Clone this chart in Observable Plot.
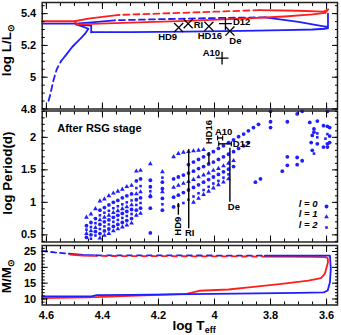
<!DOCTYPE html>
<html><head><meta charset="utf-8">
<script src="https://cdn.jsdelivr.net/npm/d3@7"></script>
<script src="https://cdn.jsdelivr.net/npm/@observablehq/plot@0.6"></script>
<style>
body{margin:0;background:#fff;}
#wrap{position:relative;width:341px;height:335px;font-family:"Liberation Sans",Arial,sans-serif;font-weight:bold;color:#000;}
#wrap svg{position:absolute;left:0;overflow:visible;}
.yt{position:absolute;white-space:nowrap;transform:translate(-50%,-50%) rotate(-90deg);font-size:13.5px;line-height:1;}
.xt{position:absolute;white-space:nowrap;transform:translate(-50%,-50%);font-size:13.5px;line-height:1;}
sub{font-size:9px;vertical-align:-3px;}
</style></head><body><div id="wrap"></div>
<script>
// ---------- top panel: HR tracks (log Teff, log L) ----------
const blueMsDashT = [4.592, 4.585, 4.575, 4.563, 4.548];
const blueMsDashL = [4.852, 4.900, 4.980, 5.050, 5.100];
const blueMsT = [4.548, 4.527, 4.508, 4.490, 4.474, 4.462, 4.450, 4.472, 4.495, 4.440, 4.440];
const blueMsL = [5.100, 5.147, 5.190, 5.222, 5.250, 5.274, 5.305, 5.320, 5.333, 5.324, 5.283];
const blueLowT = [4.440, 4.300, 4.100, 3.900, 3.750, 3.650, 3.605, 3.595, 3.595, 3.595, 3.605];
const blueLowL = [5.283, 5.284, 5.287, 5.291, 5.296, 5.300, 5.305, 5.308, 5.400, 5.318, 5.318];
const blueUpSolidT = [3.605, 3.700, 3.820];
const blueUpSolidL = [5.318, 5.348, 5.377];
const blueUpDashT = [3.820, 4.000, 4.200, 4.356];
const blueUpDashL = [5.377, 5.372, 5.365, 5.358];
const blueUpEndT = [4.356, 4.440, 4.495, 4.615];
const blueUpEndL = [5.358, 5.345, 5.337, 5.337];
const redLowT = [4.615, 4.500, 4.490, 4.300, 4.100, 3.900, 3.750, 3.650, 3.605];
const redLowL = [5.352, 5.352, 5.333, 5.343, 5.355, 5.368, 5.382, 5.395, 5.405];
const redHookT = [3.605, 3.594, 3.612];
const redHookL = [5.405, 5.427, 5.412];
const redUpSolidT = [3.612, 3.700, 3.840];
const redUpSolidL = [5.412, 5.418, 5.422];
const redUpDashT = [3.840, 4.000, 4.200, 4.340];
const redUpDashL = [5.422, 5.412, 5.400, 5.392];
const redUpEndT = [4.340, 4.400, 4.450, 4.500];
const redUpEndL = [5.392, 5.380, 5.368, 5.352];

const starName = ["HD9", "RI", "HD16", "D12", "De", "A10"];
const starT = [4.128, 4.094, 4.020, 3.961, 3.945, 3.973];
const starL = [5.312, 5.337, 5.320, 5.337, 5.290, 5.120];
const starSymbol = ["times", "times", "times", "plus", "times", "plus"];

// ---------- middle panel: periods (log Teff, log P) ----------
const leftT = [4.457, 4.441, 4.425, 4.409, 4.393, 4.377, 4.361, 4.345, 4.329, 4.313, 4.296, 4.279, 4.264];
const leftL1a = [0.77, 0.82, 0.90, 1.02, 1.05, 1.10, 1.14, 1.17, 1.20, 1.24, 1.26, 1.48, 1.49];
const leftL1b = [0.52, 0.56, 0.61, 0.73, 0.77, 0.80, 0.84, 0.87, 0.90, 0.93, 0.96, 1.13, 1.16];
const leftL1c = [null, null, null, 0.45, 0.49, 0.52, 0.56, 0.59, 0.62, 0.65, 0.68, 0.80, 0.83];
const leftL0a = [0.64, 0.69, 0.75, 0.88, 0.92, 0.96, 1.00, 1.03, 1.07, 1.10, 1.13, 1.33, 1.36];
const leftL0b = [0.46, 0.50, 0.55, 0.66, 0.70, 0.73, 0.77, 0.80, 0.83, 0.86, 0.89, 1.04, 1.07];
const leftL0c = [null, null, null, 0.52, 0.56, 0.59, 0.63, 0.66, 0.69, 0.72, 0.75, 0.88, 0.91];
const leftL2a = [0.58, 0.62, 0.68, 0.80, 0.84, 0.87, 0.91, 0.94, 0.97, 1.00, 1.03, 1.22, 1.25];
const leftL2b = [null, 0.44, 0.49, 0.59, 0.63, 0.66, 0.70, 0.73, 0.76, 0.79, 0.82, 0.96, 0.99];

const midT = [4.146, 4.129, 4.111, 4.093, 4.075, 4.057, 4.039, 4.021, 4.004, 3.986, 3.968, 3.950, 3.932, 3.914, 3.896, 3.879, 3.861, 3.843];
const midL1a = [1.70, 1.75, 1.77, 1.78, 1.79, 1.80, 1.81, null, null, null, null, null, null, null, null, null, null, null];
const midL0a = [null, null, null, 1.58, 1.62, 1.66, 1.70, 1.74, 1.78, 1.83, 1.87, 1.92, 1.96, 2.01, 2.05, 2.10, 2.15, 2.20];
const midL0b = [1.36, 1.39, 1.42, 1.45, 1.48, 1.52, 1.55, 1.59, 1.62, 1.66, 1.70, 1.74, 1.78, 1.83, 1.87, 1.92, null, null];
const midL1b = [1.23, 1.26, 1.29, 1.32, 1.35, 1.39, 1.42, 1.45, 1.49, 1.52, 1.56, 1.60, 1.64, null, null, null, null, null];
const midL0c = [1.08, 1.11, 1.15, 1.19, 1.23, 1.27, 1.31, 1.35, 1.39, 1.43, 1.47, 1.51, 1.55, null, null, null, null, null];
const midL2a = [null, 0.95, 0.99, 1.04, 1.09, 1.14, 1.19, 1.24, 1.29, 1.33, 1.38, 1.43, null, null, null, null, null, null];
const midL1c = [null, null, null, null, 1.00, 1.06, 1.12, 1.17, 1.22, 1.27, 1.31, 1.36, null, null, null, null, null, null];

const extraL0T = [4.229, 4.229, 4.229, 4.229, 4.229, 4.186, 4.186, 4.186, 4.186, 4.146, 3.854, 3.836, 3.758, 3.800, 3.800, 3.800,
  3.740, 3.705, 3.687, 3.597, 3.660, 3.633, 3.597, 3.589, 3.611, 3.645, 3.645, 3.651, 3.589, 3.655, 3.633, 3.597, 3.589, 3.651, 3.611, 3.597, 3.740, 3.740, 3.705, 3.705, 3.687];
const extraL0P = [1.34, 1.24, 1.09, 0.91, 0.53, 1.31, 1.21, 1.06, 0.88, 0.93, 1.31, 1.36, 1.48, 2.40, 2.24, 2.15,
  2.24, 2.36, 2.40, 2.40, 2.23, 2.25, 2.17, 2.15, 2.18, 2.13, 2.08, 2.03, 2.02, 1.92, 1.90, 1.90, 1.92, 1.80, 1.85, 1.85, 1.70, 1.57, 1.69, 1.58, 1.64];
const extraL1T = [4.229, 4.229, 4.186, 4.186];
const extraL1P = [1.59, 1.10, 1.47, 1.16];
const extraL2T = [4.229, 4.186, 4.186, 3.633, 3.604, 3.645, 3.633, 3.597];
const extraL2P = [1.17, 1.38, 0.97, 2.00, 1.98, 1.75, 2.06, 2.05];

const legendText = ["l = 0", "l = 1", "l = 2"];
const legendSymbol = ["circle", "triangle", "square"];

const obsName = ["HD9", "RI", "HD16", "A10", "D12", "De"];
const obsT1 = [4.129, 4.092, 4.020, 3.989, 3.985, 3.945];
const obsT2 = [4.129, 4.092, 4.020, 3.971, 3.940, 3.945];
const obsP1 = [0.81, 0.60, 1.595, 1.99, 1.90, 1.01];
const obsP2 = [0.99, 1.82, 1.77, 1.99, 1.90, 1.84];

// ---------- bottom panel: mass (log Teff, M) ----------
const bMassDashT = [4.615, 4.570, 4.520];
const bMassDashM = [25.2, 24.7, 24.3];
const bMassT1 = [4.520, 4.470, 4.420];
const bMassM1 = [24.3, 23.9, 23.8];
const bMassDash2T = [4.420, 4.100, 3.820];
const bMassDash2M = [23.8, 23.75, 23.7];
const bMassT2 = [3.820, 3.650, 3.588, 3.585, 3.588, 3.596, 3.610, 3.700, 4.000, 4.300, 4.420, 4.440, 4.615];
const bMassM2 = [23.7, 23.7, 23.7, 19.5, 15.3, 12.7, 12.1, 11.9, 11.6, 11.3, 11.2, 10.8, 10.8];
const rMassT1 = [4.515, 4.470, 4.420];
const rMassM1 = [24.0, 23.7, 23.6];
const rMassDashT = [4.420, 4.100, 3.820];
const rMassDashM = [23.6, 23.5, 23.4];
const rMassT2 = [3.820, 3.650, 3.605, 3.596, 3.595, 3.606, 3.620, 3.665, 3.760, 3.878, 3.950, 4.055, 4.100, 4.300, 4.450, 4.615];
const rMassM2 = [23.4, 23.3, 23.2, 22.9, 21.6, 18.0, 16.6, 15.8, 14.8, 13.7, 13.0, 12.6, 11.6, 11.0, 10.5, 10.3];

// ---------- helpers ----------
const BLUE = "#1e1eff", RED = "#ff1e1e";
const W = 341, ML = 41.7, MR = 4;
const xDomain = [4.615, 3.561];
const xMajor = [4.6, 4.4, 4.2, 4.0, 3.8, 3.6];
const xMinor = d3.range(4.6, 3.55, -0.05).map(v => +v.toFixed(2));
const pts = (T, V) => T.map((t, i) => ({t, v: V[i]})).filter(d => d.v != null);
const font = {fontSize: "11px", fontFamily: "'Liberation Sans', Arial, sans-serif", fontWeight: "bold", color: "#000", background: "transparent"};
const tf = () => "";
function frameMarks(yMajor, yMinor, showX) {
  return [
    Plot.frame({stroke: "#222", strokeWidth: 1.5}),
    Plot.axisX({anchor: "bottom", ticks: xMinor, tickSize: -3, tickFormat: tf, label: null}),
    Plot.axisX({anchor: "bottom", ticks: xMajor, tickSize: -6, tickFormat: tf, label: null}),
    Plot.axisX({anchor: "top", ticks: xMinor, tickSize: -3, tickFormat: tf, label: null}),
    Plot.axisX({anchor: "top", ticks: xMajor, tickSize: -6, tickFormat: tf, label: null}),
    showX ? Plot.axisX({anchor: "bottom", ticks: xMajor, tickSize: 0, tickPadding: 6, label: null, tickFormat: d => d3.format("")(d)}) : null,
    Plot.axisY({anchor: "left", ticks: yMinor, tickSize: -3, tickFormat: tf, label: null}),
    Plot.axisY({anchor: "left", ticks: yMajor, tickSize: -6, tickFormat: tf, label: null}),
    Plot.axisY({anchor: "right", ticks: yMinor, tickSize: -3, tickFormat: tf, label: null}),
    Plot.axisY({anchor: "right", ticks: yMajor, tickSize: -6, tickFormat: tf, label: null}),
    Plot.axisY({anchor: "left", ticks: yMajor, tickSize: 0, tickPadding: 6, label: null, tickFormat: d => d3.format("")(d)})
  ];
}
const wrap = document.getElementById("wrap");
function place(svg, top) { svg.style.top = top + "px"; wrap.appendChild(svg); }
function title(html, cls, x, y) { const d = document.createElement("div"); d.className = cls; d.style.left = x + "px"; d.style.top = y + "px"; d.innerHTML = html; wrap.appendChild(d); }
const lineOpt = (c, dash, off) => ({x: "t", y: "v", stroke: c, strokeWidth: 1.8, strokeDasharray: dash, strokeDashoffset: off});

// ---------- panel 1 ----------
const labelOff = {HD9: [-11, 9.5, "middle"], RI: [5.5, 1.5, "start"], HD16: [1, 9.5, "middle"], D12: [7.5, -1.5, "start"], De: [5.5, 10, "middle"], A10: [-2, -5, "end"]};
const stars = starName.map((n, i) => ({n, t: starT[i], v: starL[i], s: starSymbol[i]}));
const p1 = Plot.plot({
  width: W, height: 110, marginLeft: ML, marginRight: MR, marginTop: 2, marginBottom: 1.5,
  style: font,
  x: {domain: xDomain, axis: null},
  y: {domain: [4.8, 5.47], axis: null},
  symbol: {type: "identity"},
  marks: [
    Plot.line(pts(blueMsDashT, blueMsDashL), lineOpt(BLUE, "6,4")),
    Plot.line(pts(blueMsT, blueMsL), lineOpt(BLUE)),
    Plot.line(pts(blueLowT, blueLowL), lineOpt(BLUE)),
    Plot.line(pts(blueUpSolidT, blueUpSolidL), lineOpt(BLUE)),
    Plot.line(pts(blueUpDashT, blueUpDashL), lineOpt(BLUE, "6,4")),
    Plot.line(pts(blueUpEndT, blueUpEndL), lineOpt(BLUE)),
    Plot.line(pts(redLowT, redLowL), lineOpt(RED)),
    Plot.line(pts(redHookT, redHookL), lineOpt(RED)),
    Plot.line(pts(redUpSolidT, redUpSolidL), lineOpt(RED)),
    Plot.line(pts(redUpDashT, redUpDashL), lineOpt(RED, "6,4")),
    Plot.line(pts(redUpEndT, redUpEndL), lineOpt(RED)),
    Plot.dot(stars, {x: "t", y: "v", symbol: "s", r: 4.2, stroke: "#000", strokeWidth: 1.3}),
    ...stars.map(d => Plot.text([d], {x: "t", y: "v", text: "n", textAnchor: labelOff[d.n][2], dx: labelOff[d.n][0], dy: labelOff[d.n][1], fontSize: 9.5, fontWeight: "bold", fill: "#000"})),
    ...frameMarks([4.8, 5, 5.2, 5.4], d3.range(4.8, 5.47, 0.05).map(v => +v.toFixed(2)), false)
  ]
});
place(p1, 0);

// ---------- panel 2 ----------
const dotsL0 = [...pts(leftT, leftL0a), ...pts(leftT, leftL0b), ...pts(leftT, leftL0c), ...pts(midT, midL0a), ...pts(midT, midL0b), ...pts(midT, midL0c), ...pts(extraL0T, extraL0P)];
const dotsL1 = [...pts(leftT, leftL1a), ...pts(leftT, leftL1b), ...pts(leftT, leftL1c), ...pts(midT, midL1a), ...pts(midT, midL1b), ...pts(midT, midL1c), ...pts(extraL1T, extraL1P)];
const dotsL2 = [...pts(leftT, leftL2a), ...pts(leftT, leftL2b), ...pts(midT, midL2a), ...pts(extraL2T, extraL2P)];
const obs = obsName.map((n, i) => ({n, t1: obsT1[i], t2: obsT2[i], p1: obsP1[i], p2: obsP2[i], tm: (obsT1[i] + obsT2[i]) / 2}));
const capSym = {draw(ctx, size) { const h = Math.sqrt(size / Math.PI); ctx.moveTo(0, -h); ctx.lineTo(0, h); }};
const obsLab = {
  HD9: {x: "t1", y: "p1", rotate: -90, textAnchor: "end", dy: 2},
  RI: {x: "t1", y: "p1", textAnchor: "middle", dx: 1, dy: 5},
  HD16: {x: "t1", y: "p2", rotate: -90, textAnchor: "start", dy: -8},
  A10: {x: "tm", y: "p1", textAnchor: "middle", dx: 3.5, dy: -6.5},
  D12: {x: "t2", y: "p1", textAnchor: "start", dx: 1.5, dy: 0},
  De: {x: "t1", y: "p1", textAnchor: "middle", dx: 4, dy: 5.5}
};
const symR = {circle: 1.9, triangle: 1.75, square: 1.45};
const legendDy = [-35.5, -25, -14.5];
const p2 = Plot.plot({
  width: W, height: 134, marginLeft: ML, marginRight: MR, marginTop: 1.5, marginBottom: 1.5,
  style: font,
  x: {domain: xDomain, axis: null},
  y: {domain: [0.39, 2.405], axis: null},
  marks: [
    Plot.dot(dotsL0, {x: "t", y: "v", symbol: "circle", r: symR.circle, fill: BLUE}),
    Plot.dot(dotsL1, {x: "t", y: "v", symbol: "triangle", r: symR.triangle, fill: BLUE}),
    Plot.dot(dotsL2, {x: "t", y: "v", symbol: "square", r: symR.square, fill: BLUE}),
    Plot.link(obs, {x1: "t1", x2: "t2", y1: "p1", y2: "p2", stroke: "#000", strokeWidth: 1.4}),
    Plot.dot(obs.filter(d => d.t1 !== d.t2), {x: "t1", y: "p1", symbol: capSym, r: 2.5, stroke: "#000", strokeWidth: 1.2, fill: "none"}),
    Plot.dot(obs.filter(d => d.t1 !== d.t2), {x: "t2", y: "p1", symbol: capSym, r: 2.5, stroke: "#000", strokeWidth: 1.2, fill: "none"}),
    ...obs.map(d => Plot.text([d], {...obsLab[d.n], text: "n", fontSize: 9.5, fontWeight: "bold", fill: "#000"})),
    Plot.text(["After RSG stage"], {x: null, y: null, text: d => d, frameAnchor: "top-left", textAnchor: "start", dx: 15, dy: 13.5, fontSize: 11, fontWeight: "bold", fill: "#000"}),
    ...legendText.map((s, i) => Plot.text([s], {x: null, y: null, text: d => d, frameAnchor: "bottom-right", textAnchor: "end", dx: -20, dy: legendDy[i], fontSize: 9.5, fontWeight: "bold", fontStyle: "italic", fill: "#000"})),
    ...legendSymbol.map((s, i) => Plot.dot([s], {x: null, y: null, frameAnchor: "bottom-right", dx: -11, dy: legendDy[i], symbol: s, r: symR[s], fill: BLUE})),
    ...frameMarks([0.5, 1, 1.5, 2], d3.range(0.4, 2.41, 0.1).map(v => +v.toFixed(2)), false)
  ]
});
place(p2, 109);

// ---------- panel 3 ----------
const p3 = Plot.plot({
  width: W, height: 92, marginLeft: ML, marginRight: MR, marginTop: 2, marginBottom: 30.5,
  style: font,
  x: {domain: xDomain, axis: null},
  y: {domain: [8.1, 26.9], axis: null},
  marks: [
    Plot.line(pts(bMassDashT, bMassDashM), lineOpt(BLUE, "5,4")),
    Plot.line(pts(bMassT1, bMassM1), lineOpt(BLUE)),
    Plot.line(pts(rMassT1, rMassM1), lineOpt(RED)),
    Plot.line(pts(bMassDash2T, bMassDash2M), lineOpt(BLUE, "5,5", 0)),
    Plot.line(pts(rMassDashT, rMassDashM), lineOpt(RED, "5,5", 5)),
    Plot.line(pts(rMassT2, rMassM2), lineOpt(RED)),
    Plot.line(pts(bMassT2, bMassM2), lineOpt(BLUE)),
    ...frameMarks([10, 15, 20, 25], d3.range(9, 26.5, 1), true)
  ]
});
place(p3, 243);

title("log L/L<sub>⊙</sub>", "yt", 8, 50);
title("log Period(d)", "yt", 8, 173);
title("M/M<sub>⊙</sub>", "yt", 8, 276);
title("log T<sub>eff</sub>", "xt", 194, 327);
</script></body></html>
